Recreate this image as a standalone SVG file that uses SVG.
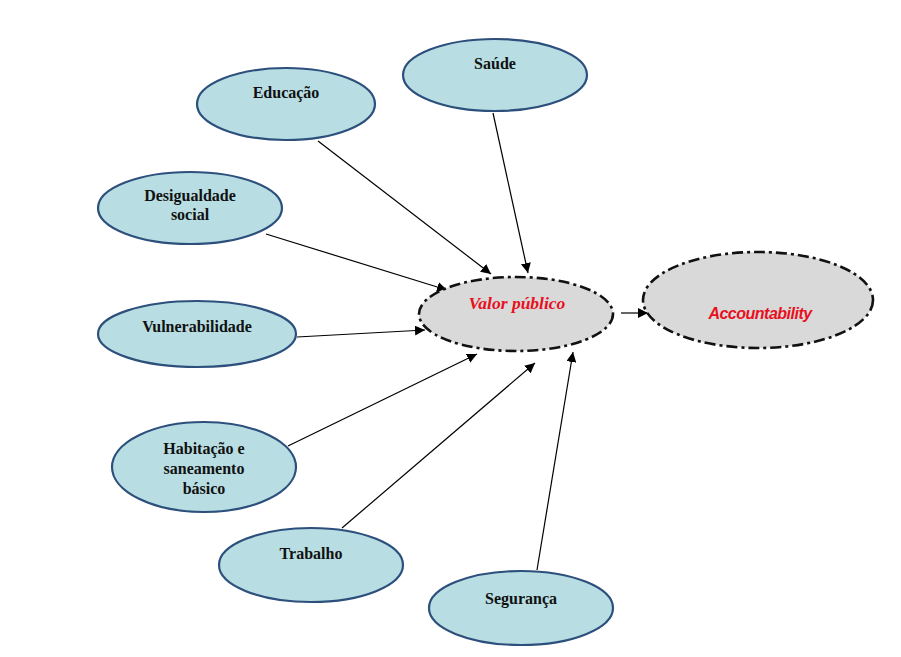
<svg xmlns="http://www.w3.org/2000/svg" width="901" height="657" viewBox="0 0 901 657">
<style>
.n{fill:#b8dee3;stroke:#2c4f7c;stroke-width:2.2}
.c{fill:#d9d9d9;stroke:#111;stroke-width:2.6;stroke-dasharray:11 4 3 4}
.t{font-family:"Liberation Serif","Times New Roman",serif;font-weight:bold;font-size:16px;fill:#111;text-anchor:middle}
.v{font-family:"Liberation Serif","Times New Roman",serif;font-weight:bold;font-style:italic;font-size:17.5px;fill:#e8101e;text-anchor:middle}
.a{font-family:"Liberation Sans",Arial,sans-serif;font-weight:bold;font-style:italic;font-size:16px;letter-spacing:-0.5px;fill:#e8101e;text-anchor:middle}
.e{stroke:#000;stroke-width:1.2;fill:none;marker-end:url(#ah)}
</style>
<defs>
<marker id="ah" viewBox="0 0 10 10" refX="10" refY="5" markerWidth="10" markerHeight="10" markerUnits="userSpaceOnUse" orient="auto">
<path d="M0,0 L10,5 L0,10 Z" fill="#000"/>
</marker>
</defs>
<rect width="901" height="657" fill="#fff"/>
<g id="connectors">
<line class="e" x1="493" y1="113" x2="528" y2="273"/>
<line class="e" x1="318" y1="141" x2="491" y2="274"/>
<line class="e" x1="266" y1="234" x2="447" y2="290"/>
<line class="e" x1="297" y1="337" x2="425" y2="330"/>
<line class="e" x1="288" y1="446" x2="477" y2="354"/>
<line class="e" x1="342" y1="528" x2="535" y2="363"/>
<line class="e" x1="537" y1="570" x2="573" y2="352"/>
<line class="e" x1="621" y1="313" x2="648" y2="313"/>
</g>
<g id="saude"><ellipse class="n" cx="495" cy="75" rx="92" ry="36"/><text class="t" x="495" y="69">Saúde</text></g>
<g id="educacao"><ellipse class="n" cx="286" cy="104" rx="89" ry="36"/><text class="t" x="286" y="98">Educação</text></g>
<g id="desigualdade"><ellipse class="n" cx="190" cy="208" rx="92" ry="36"/><text class="t" x="190" y="201">Desigualdade</text><text class="t" x="190" y="220">social</text></g>
<g id="vulnerabilidade"><ellipse class="n" cx="197" cy="334" rx="99" ry="33"/><text class="t" x="197" y="332">Vulnerabilidade</text></g>
<g id="habitacao"><ellipse class="n" cx="204" cy="467" rx="92" ry="45"/><text class="t" x="204" y="454">Habitação e</text><text class="t" x="204" y="474">saneamento</text><text class="t" x="204" y="494">básico</text></g>
<g id="trabalho"><ellipse class="n" cx="311" cy="565" rx="92" ry="37"/><text class="t" x="311" y="559">Trabalho</text></g>
<g id="seguranca"><ellipse class="n" cx="521" cy="608" rx="92" ry="37"/><text class="t" x="521" y="604">Segurança</text></g>
<g id="valor"><ellipse class="c" cx="516" cy="314" rx="97" ry="37"/><text class="v" x="517" y="309">Valor público</text></g>
<g id="accountability"><ellipse class="c" cx="758" cy="300" rx="115" ry="48"/><text class="a" x="760" y="319">Accountability</text></g>
</svg>
